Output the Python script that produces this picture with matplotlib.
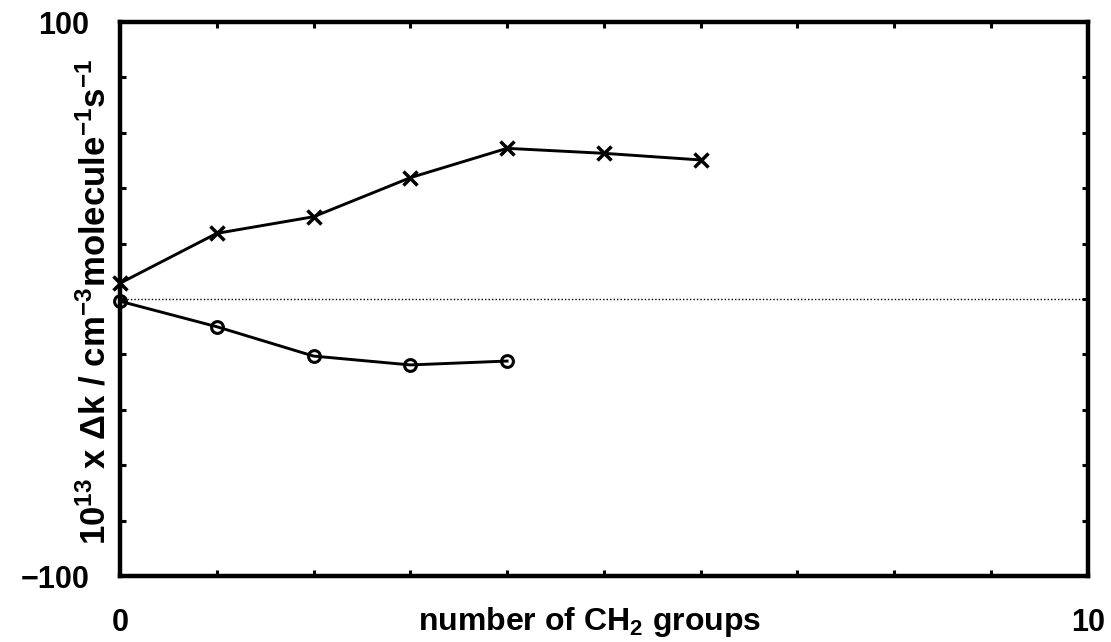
import matplotlib
matplotlib.use("Agg")
import matplotlib.pyplot as plt
from matplotlib.ticker import MultipleLocator, FixedLocator, FuncFormatter

plt.rcParams.update({
    "font.family": ["Liberation Sans", "DejaVu Sans"],
    "font.weight": "bold",
    "mathtext.default": "regular",
})

# rate-constant change vs. chain length
n_cross = [0, 1, 2, 3, 4, 5, 6]
dk_cross = [5.7, 23.7, 29.7, 43.8, 54.4, 52.6, 50.2]

n_circ = [0, 1, 2, 3, 4]
dk_circ = [-0.8, -10.0, -20.6, -23.8, -22.4]

XLIM = (0, 10)
YLIM = (-100, 100)

fig = plt.figure(figsize=(11.11, 6.42), dpi=100)
ax = fig.add_axes([0.108, 0.1028, 0.871, 0.8629])

ax.axhline(0, color="black", lw=1.0, ls=(0, (1, 1.5)), zorder=1)

ax.plot(n_cross, dk_cross, color="black", lw=2.1, marker="x", ms=10,
        mew=2.5, zorder=3, clip_on=False)
ax.plot(n_circ, dk_circ, color="black", lw=2.1, marker="o", ms=8.5,
        mfc="none", mew=2.2, zorder=3, clip_on=False)

ax.set_xlim(*XLIM)
ax.set_ylim(*YLIM)

for s in ax.spines.values():
    s.set_linewidth(3.2)

# label only the ends of each axis, tick every step in between
ax.xaxis.set_major_locator(FixedLocator([0, 10]))
ax.yaxis.set_major_locator(FixedLocator([-100, 100]))
ax.xaxis.set_minor_locator(MultipleLocator(1))
ax.yaxis.set_minor_locator(MultipleLocator(20))
ax.yaxis.set_major_formatter(FuncFormatter(lambda v, p: f"{v:.0f}".replace("-", "\u2212")))
ax.tick_params(which="major", length=0, labelsize=22)
ax.tick_params(axis="x", which="major", pad=23)
ax.tick_params(axis="y", which="major", pad=22)
ax.tick_params(which="minor", direction="in", length=4, width=2.2,
               top=True, right=True)

ax.set_xlabel("number of CH$_2$ groups", fontsize=23, fontweight="bold")
ax.xaxis.set_label_coords(0.4855, -0.053)
ax.set_ylabel("10$^{13}$ x \u0394k / cm$^{-3}$molecule$^{-1}$s$^{-1}$",
              fontsize=25, fontweight="bold")
ax.yaxis.set_label_coords(-0.008, 0.495)

fig.savefig("out.png", dpi=100, facecolor="white")
